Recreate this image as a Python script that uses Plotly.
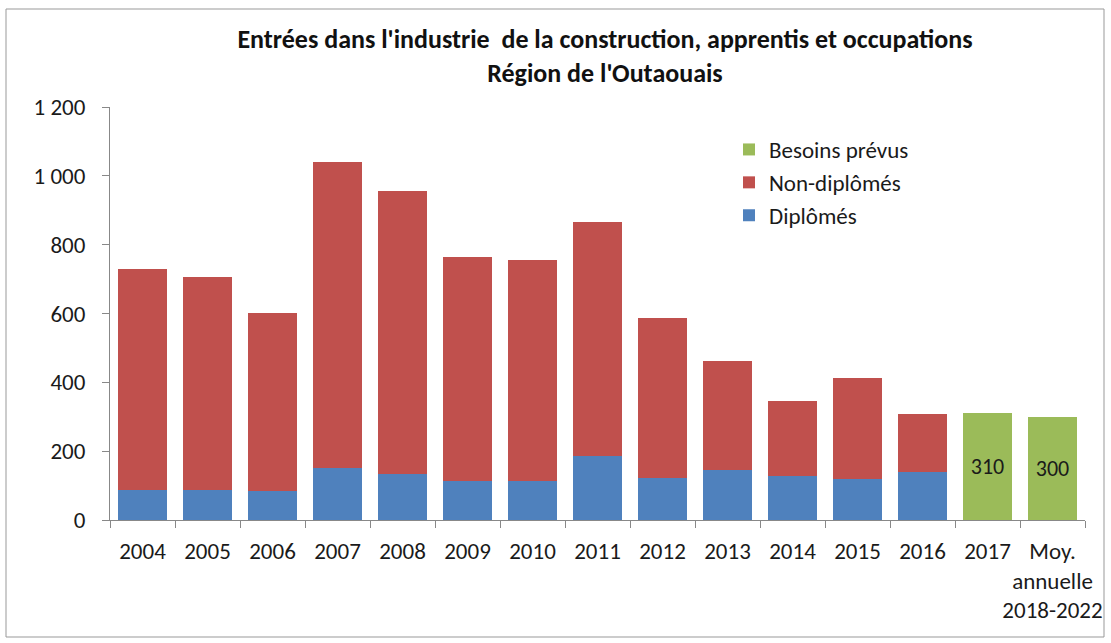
import plotly.graph_objects as go

categories = ["2004", "2005", "2006", "2007", "2008", "2009", "2010", "2011",
              "2012", "2013", "2014", "2015", "2016", "2017", "Moy.<br>annuelle<br>2018-2022"]
totals = [730, 705, 602, 1040, 955, 763, 756, 867, 586, 462, 345, 412, 308, None, None]
diplomes = [88, 88, 84, 150, 134, 113, 113, 187, 121, 145, 129, 118, 140, None, None]
besoins = [None] * 13 + [310, 300]
non_diplomes = [t - d if t is not None else None for t, d in zip(totals, diplomes)]

FONT = "Carlito, Liberation Sans Narrow, Liberation Sans, Arial"
W, H = 1111, 643
ML, MR, MT, MB = 110, 26, 107, 123

fig = go.Figure()
fig.add_trace(go.Bar(x=categories, y=diplomes, name="Diplômés", legendgroup="a", legendrank=3,
                     marker=dict(color="#4F81BD", line=dict(width=0))))
fig.add_trace(go.Bar(x=categories, y=non_diplomes, name="Non-diplômés", legendgroup="b", legendrank=2,
                     marker=dict(color="#C0504D", line=dict(width=0))))
fig.add_trace(go.Bar(x=categories, y=besoins, name="Besoins prévus", legendgroup="c", legendrank=1,
                     marker=dict(color="#9BBB59", line=dict(width=0)),
                     text=[str(v) if v is not None else "" for v in besoins],
                     textposition="inside", insidetextanchor="middle",
                     textfont=dict(color="#1a1a1a", size=22, family=FONT)))

pw = W - ML - MR
ph = H - MT - MB
fig.update_layout(
    width=W, height=H,
    barmode="stack", bargap=0.24,
    separators=", ",
    paper_bgcolor="white", plot_bgcolor="white",
    margin=dict(l=ML, r=MR, t=MT, b=MB, autoexpand=False),
    font=dict(family=FONT, size=22, color="#1a1a1a"),
    title=dict(text="<b>Entrées dans l'industrie  de la construction, apprentis et occupations<br>Région de l'Outaouais</b>",
               x=605 / W, xanchor="center",
               y=1 - 48 / H, yanchor="top",
               font=dict(size=26, family=FONT, color="#111111")),
    legend=dict(x=(729 - ML) / pw, y=(520 - 128) / ph, xanchor="left", yanchor="top",
                traceorder="grouped", font=dict(size=23, family=FONT),
                bgcolor="rgba(0,0,0,0)", tracegroupgap=0, itemwidth=30),
    xaxis=dict(type="category", showline=True, linecolor="#888888", linewidth=1,
               ticks="outside", tickson="boundaries", ticklen=7, tickcolor="#888888",
               tickangle=0, automargin=False, ticklabelstandoff=10,
               tickfont=dict(size=23, family=FONT), showgrid=False),
    yaxis=dict(range=[0, 1200], dtick=200, showline=True, linecolor="#888888", linewidth=1,
               ticks="outside", ticklen=7, tickcolor="#888888", showgrid=False,
               automargin=False, tickformat=",d", ticklabelstandoff=12,
               tickfont=dict(size=23, family=FONT), zeroline=False),
    showlegend=True,
)
# outer frame
fig.add_shape(type="rect", xref="paper", yref="paper",
              x0=(6 - ML) / pw, x1=(1104 - ML) / pw,
              y0=(H - MB - 637) / ph, y1=(H - MB - 9) / ph,
              line=dict(color="#999999", width=1), fillcolor="rgba(0,0,0,0)")

fig.write_html("out.html", config={"displayModeBar": False},
               post_script="document.body.style.margin='0';")
